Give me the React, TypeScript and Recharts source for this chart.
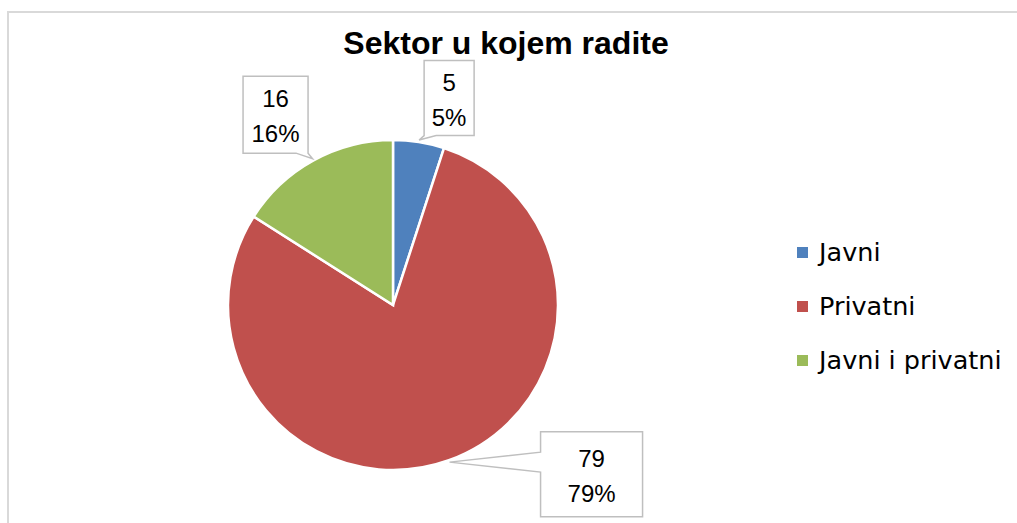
import { PieChart, Pie, Cell, Legend } from "recharts";

const CATEGORIES = ["Javni", "Privatni", "Javni i privatni"];
const COUNTS = [5, 79, 16];
const COLORS = ["#4F81BD", "#C0504D", "#9BBB59"];

// callout box centre, relative to the pointer tip on the slice edge
const CALLOUTS = [
    { dx: 30, dy: -42, w: 50, h: 75 },
    { dx: 142, dy: 12, w: 102, h: 85 },
    { dx: -37, dy: -44, w: 65, h: 77 },
];

const RADIAN = Math.PI / 180;
const W = 1017;
const H = 523;

const data = CATEGORIES.map((name, i) => ({ name, value: COUNTS[i] }));

function calloutPath(x: number, y: number, w: number, h: number, tx: number, ty: number) {
    const clamp = (v: number, a: number, b: number) => Math.max(a, Math.min(b, v));
    if (ty > y + h) {
        const hw = 6;
        const c = clamp(tx, x + hw, x + w - hw);
        return `M${x},${y} L${x + w},${y} L${x + w},${y + h} L${c + hw},${y + h} L${tx},${ty} L${c - hw},${y + h} L${x},${y + h} Z`;
    }
    if (ty < y) {
        const hw = 6;
        const c = clamp(tx, x + hw, x + w - hw);
        return `M${x},${y} L${c - hw},${y} L${tx},${ty} L${c + hw},${y} L${x + w},${y} L${x + w},${y + h} L${x},${y + h} Z`;
    }
    const hw = 10;
    const c = clamp(ty, y + hw, y + h - hw);
    if (tx < x) {
        return `M${x},${y} L${x + w},${y} L${x + w},${y + h} L${x},${y + h} L${x},${c + hw} L${tx},${ty} L${x},${c - hw} Z`;
    }
    return `M${x},${y} L${x + w},${y} L${x + w},${c - hw} L${tx},${ty} L${x + w},${c + hw} L${x + w},${y + h} L${x},${y + h} Z`;
}

function renderLabel(props: any) {
    const { cx, cy, midAngle, outerRadius, value, percent, index } = props;
    const r = outerRadius + 2;
    const tx = cx + r * Math.cos(-midAngle * RADIAN);
    const ty = cy + r * Math.sin(-midAngle * RADIAN);
    const box = CALLOUTS[index];
    const bx = tx + box.dx - box.w / 2;
    const by = ty + box.dy - box.h / 2;
    const mx = tx + box.dx;
    const my = ty + box.dy;
    return (
        <g key={`lbl-${index}`}>
            <path
                d={calloutPath(bx, by, box.w, box.h, tx, ty)}
                fill="#fff"
                stroke="#bfbfbf"
                strokeWidth={1.5}
            />
            <text
                x={mx}
                y={my - 16}
                textAnchor="middle"
                dominantBaseline="central"
                fontFamily="'Liberation Sans', Arial, sans-serif"
                fontSize={24}
                fill="#000"
            >
                {value}
            </text>
            <text
                x={mx}
                y={my + 19}
                textAnchor="middle"
                dominantBaseline="central"
                fontFamily="'Liberation Sans', Arial, sans-serif"
                fontSize={24}
                fill="#000"
            >
                {`${Math.round(percent * 100)}%`}
            </text>
        </g>
    );
}

function renderLegend() {
    return (
        <div style={{ fontFamily: "'DejaVu Sans', sans-serif", fontSize: 25.5, color: "#000" }}>
            {CATEGORIES.map((name, i) => (
                <div
                    key={name}
                    style={{ display: "flex", alignItems: "center", height: 54, whiteSpace: "nowrap" }}
                >
                    <span
                        style={{
                            display: "inline-block",
                            width: 11,
                            height: 11,
                            background: COLORS[i],
                            marginRight: 11,
                        }}
                    />
                    <span>{name}</span>
                </div>
            ))}
        </div>
    );
}

export default function App() {
    return (
        <div style={{ position: "absolute", left: 0, top: 0, width: W, height: H, background: "#fff", overflow: "hidden" }}>
            <div
                style={{
                    position: "absolute",
                    left: 7,
                    top: 11,
                    width: W,
                    height: H,
                    borderLeft: "2px solid #d9d9d9",
                    borderTop: "2px solid #d9d9d9",
                }}
            />
            <div
                style={{
                    position: "absolute",
                    left: 0,
                    top: 23,
                    width: 1012,
                    textAlign: "center",
                    fontFamily: "'Liberation Sans', Arial, sans-serif",
                    fontWeight: "bold",
                    fontSize: 32,
                    lineHeight: "40px",
                    color: "#000",
                }}
            >
                Sektor u kojem radite
            </div>
            <div style={{ position: "absolute", left: 0, top: 0 }}>
                <PieChart width={W} height={H} margin={{ top: 0, right: 0, bottom: 0, left: 0 }}>
                    <Pie
                        data={data}
                        dataKey="value"
                        nameKey="name"
                        cx={393}
                        cy={305}
                        outerRadius={165}
                        startAngle={90}
                        endAngle={-270}
                        stroke="#fff"
                        strokeWidth={2.5}
                        label={renderLabel}
                        labelLine={false}
                        isAnimationActive={false}
                    >
                        {data.map((d, i) => (
                            <Cell key={d.name} fill={COLORS[i]} />
                        ))}
                    </Pie>
                    <Legend
                        content={renderLegend}
                        layout="vertical"
                        wrapperStyle={{ position: "absolute", left: 797, top: 225, width: 220 }}
                    />
                </PieChart>
            </div>
        </div>
    );
}
